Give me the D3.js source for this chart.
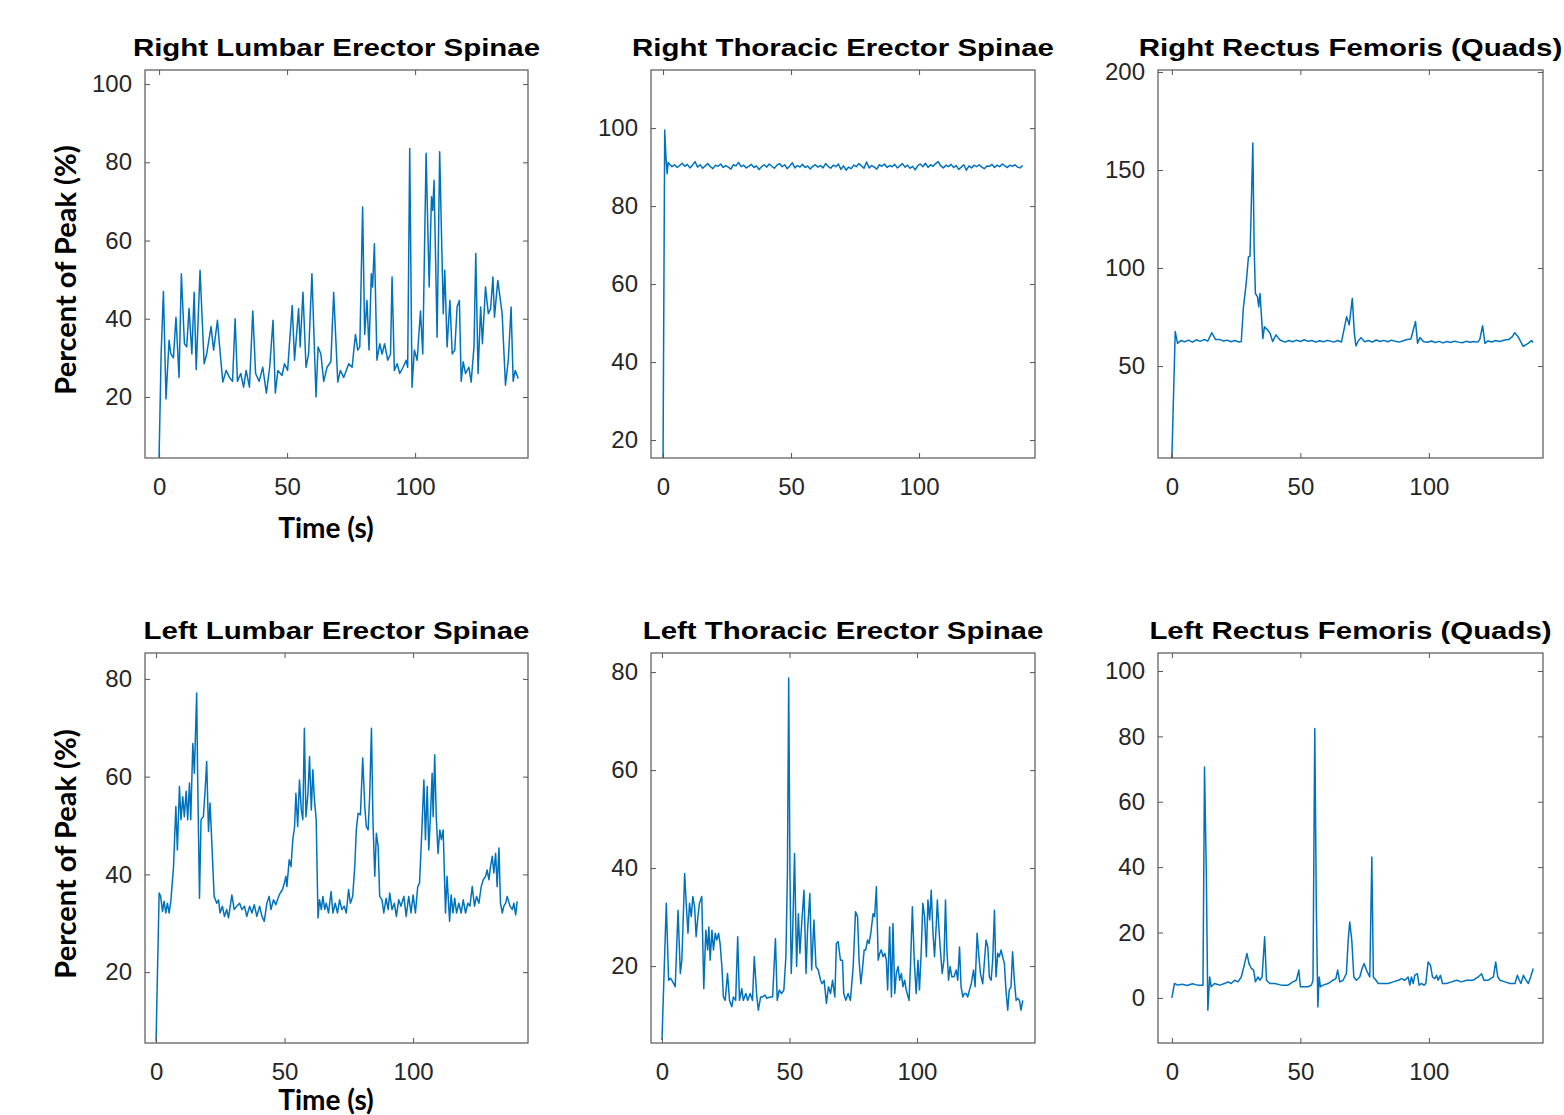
<!DOCTYPE html>
<html>
<head>
<meta charset="UTF-8"/>
<style>
  body { margin: 0; background: #fff; }
  svg { display: block; }
</style>
</head>
<body>
<script src="https://d3js.org/d3.v7.min.js"></script>
<script>
// ---- data: [time (s), percent of peak] ----
var rightLumbar = [
  [0,4.6],[0.8,31],[1.7,47],[2.7,19.5],[3.9,34.5],[4.6,31],[5.6,30],[6.6,40.4],[7.8,25],[8.7,51.5],
  [9.9,33.6],[10.8,32.8],[11.7,42.6],[12.8,31],[13.7,46.8],[14.5,27],[16.0,52.4],[17.6,28.5],[18.6,31],[20.3,38],
  [21.3,32],[22.8,39.6],[23.9,31],[24.9,23.8],[26.2,26.8],[27.5,25],[28.7,24],[29.7,40],[30.6,24],[31.9,26],
  [33.0,22.5],[34.0,26.8],[35.3,22.5],[36.6,42],[37.7,26],[39.1,24],[40.5,27.6],[41.9,21],[43.2,27.6],[44.5,39.6],
  [45.4,21],[46.4,26.8],[48.0,25.5],[49.0,28.5],[50.2,26.8],[52.0,43.4],[52.9,29.4],[54.5,42.6],[55.1,32.8],[56.2,46.8],
  [57.4,27.6],[58.4,31],[59.7,51.5],[61.3,20],[62.1,32.8],[63.2,31],[64.3,24],[65.6,27.6],[67.1,29],[68.2,46.8],
  [69.8,23.8],[70.8,26.8],[72.1,25],[74.1,28.5],[75.4,27.6],[76.7,36],[77.6,32],[78.4,32.8],[79.5,68.6],[80.3,36],
  [81.2,44.7],[82.0,32],[82.9,51.5],[83.4,48.1],[84.1,59.2],[85.1,29.4],[86.2,33.6],[87.1,31],[88.1,33.6],[89.3,29.4],
  [90.4,31],[91.0,50.7],[91.9,26.8],[93.0,28.5],[94.0,26],[95.3,27.6],[96.5,29.4],[97.1,27.6],[97.9,83.5],[98.8,22.5],
  [99.7,32],[100.8,29.4],[102.1,42],[103.0,31],[104.3,82.3],[105.5,48.1],[106.4,71.2],[106.9,67.7],[107.4,75.4],[108.6,35.3],
  [109.6,82.7],[111.0,41.3],[111.6,52.4],[112.5,32.8],[113.6,44.7],[114.5,31],[115.5,32],[116.4,43],[117.3,44.7],[118.0,24],
  [118.8,29],[119.7,26],[121.0,27.6],[121.9,23.8],[123.0,32.8],[123.7,56.7],[124.6,26],[125.6,43],[126.3,33.6],[127.5,48.1],
  [128.6,41.3],[129.5,42.6],[130.4,50.7],[131.0,40.4],[132.3,49.8],[134.0,41.3],[135.3,23],[136.4,29.4],[137.5,43],[138.3,24],
  [139.1,26.8],[140.3,24.7]
];

var rightThoracicOnset = [[0,15],[0.65,99.5],[1.1,93],[1.6,88.3],[2.0,91.2]];
var rightThoracicStart = 2.5;   // s, first sample of the steady part
var rightThoracicStep = 1;      // s between samples
var rightThoracicSteady = [
  90.8,90.1,90.6,89.9,90.4,91.0,90.2,90.7,89.8,90.5,
  91.4,90.0,90.6,89.7,90.3,90.9,90.1,89.6,90.5,90.2,
  90.8,89.9,90.4,90.0,89.5,90.6,90.3,91.2,90.1,90.5,
  89.8,90.2,90.7,89.9,90.3,89.4,90.1,90.6,90.0,90.8,
  90.2,89.7,90.5,90.9,90.1,90.6,89.6,90.3,91.1,89.8,
  90.4,90.0,90.7,89.9,90.3,89.5,90.2,90.6,90.0,90.4,
  89.8,90.9,90.2,89.7,90.5,90.1,90.8,89.4,90.3,89.2,
  90.0,89.6,90.5,90.1,90.9,90.3,89.7,91.3,89.8,90.4,
  90.0,89.5,90.6,90.2,90.8,89.9,90.4,90.1,90.7,89.8,
  90.3,90.9,90.0,90.5,89.7,90.2,89.3,90.4,90.8,90.1,
  91.0,89.9,90.6,90.2,90.9,91.4,90.3,89.8,90.5,90.1,
  90.7,89.9,90.4,89.4,90.0,90.6,89.2,90.3,89.8,90.5,
  90.1,90.6,90.0,89.6,90.3,90.2,90.7,89.9,90.5,90.1,
  90.8,90.3,89.9,90.5,90.2,90.6,90.0,89.8,90.4
];

var rightQuads = [
  [0,3],[1.3,67.6],[2.2,61.6],[3.5,63],[5,62.4],[6.5,63.2],[8,62.2],[9.5,63.4],[11,62.6],[12.5,63.5],
  [14,62.8],[15.5,67],[17,63.5],[18.5,63.6],[20,62.8],[21.5,63.2],[23,62.4],[24.5,63],[26,62.3],[27,62.5],
  [27.8,79.5],[28.9,92],[29.8,105.8],[30.4,106],[31.5,163.8],[32.0,110.9],[32.5,87],[33.3,85.4],[33.8,80.3],[34.3,87],
  [35.4,64],[36.0,70],[37.3,68.4],[38.2,66.7],[39.2,62.5],[40.5,65.9],[42.1,63.3],[44,62.2],[45.5,63],[47,62.4],
  [48.5,63.2],[50,62.5],[51.5,63.4],[53,62.6],[54.5,63],[56,62.2],[57.5,62.9],[59,62.4],[60.5,63.1],[62,62.6],
  [63,62.2],[64.5,63.0],[66,62.3],[68.0,75.2],[69.0,71],[70.2,84.5],[71.0,66.7],[71.6,60.3],[72.5,62.8],[73.6,64.5],
  [75,62.4],[76.5,63],[78,62.2],[79.5,63.3],[81,62.5],[82.5,63.1],[84,62.4],[85.5,63.2],[87,62.6],[88.5,62.2],
  [90,62.9],[91.5,63.5],[93,63.8],[94.8,72.7],[95.6,61.6],[96.5,64.5],[98,62.4],[99.5,62.1],[101,62.8],[102.5,62],
  [104,62.6],[105.5,61.8],[107,62.5],[108.5,62],[110,62.7],[111.5,62.2],[113,61.9],[114.5,62.6],[116,62.1],[117.5,62.5],
  [119,62.2],[119.8,63.5],[120.9,70.6],[121.8,61.6],[123,62.8],[124.5,62.3],[126,63],[127.5,62.5],[129.5,63.3],[131,63.5],
  [132.5,65],[133.4,67],[134.7,65],[136.7,60],[138.6,61.6],[139.9,63],[140.5,62]
];

var leftLumbar = [
  [0,5.8],[1.2,36.2],[1.8,35.5],[2.5,32.4],[3.1,34.5],[3.8,32.1],[4.4,34.1],[5.1,32.1],[5.8,34.8],[6.8,41.6],
  [7.7,53.9],[8.3,45.0],[9.1,58.0],[9.7,51.2],[10.4,55.9],[11.0,51.8],[11.7,57.0],[12.3,51.2],[13.0,58.7],[13.5,51.2],
  [14.3,66.8],[14.9,60.7],[15.8,77.1],[16.2,59.3],[16.9,35.1],[17.5,51.2],[18.4,51.8],[19.1,57.3],[19.7,63.1],[20.4,48.8],
  [21.0,54.6],[21.7,46.4],[22.6,35.5],[23.6,34.1],[24.3,34.8],[24.9,32.1],[25.8,33.5],[26.6,31.4],[27.5,32.8],[28.2,31.1],
  [29.5,35.8],[30.4,32.8],[31.4,33.5],[32.5,34.1],[33.4,32.8],[34.4,33.5],[35.3,31.4],[36.4,33.5],[37.3,32.1],[38.2,33.8],
  [39.2,31.4],[40.3,33.5],[41.2,31.4],[42.1,30.4],[43.1,34.1],[44.0,35.5],[44.7,32.8],[45.7,34.8],[46.6,33.8],[47.7,35.5],
  [48.3,36.2],[49.2,36.9],[49.9,38.2],[50.5,39.6],[50.9,37.5],[51.8,43.0],[52.5,41.6],[53.2,47.1],[53.9,49.8],[54.4,56.6],
  [55.1,49.8],[55.8,59.3],[56.5,53.2],[57.1,51.2],[57.7,69.9],[58.3,51.8],[59.1,56.6],[59.7,64.1],[60.4,53.2],[61.0,61.4],
  [61.6,55.3],[62.3,51.2],[63.0,31.1],[63.6,34.8],[64.3,32.8],[64.9,35.5],[65.6,32.8],[66.2,34.1],[67.1,32.1],[68.1,36.5],
  [68.8,32.1],[69.7,34.1],[70.6,32.1],[71.4,34.8],[72.3,32.8],[73.2,33.5],[74.0,32.1],[74.9,36.9],[75.6,34.1],[76.5,35.5],
  [77.3,41.6],[77.9,49.1],[78.6,52.5],[79.5,52.2],[80.4,63.8],[81.2,53.9],[81.8,49.8],[82.5,49.1],[83.1,55.9],[83.8,69.9],
  [84.4,50.5],[85.1,39.6],[85.7,48.4],[86.4,45.7],[87.0,35.5],[87.9,34.8],[88.6,32.1],[89.5,35.1],[90.3,32.8],[90.9,36.2],
  [91.8,32.8],[92.7,34.1],[93.5,31.4],[94.4,34.8],[95.3,33.5],[96.4,35.5],[97.3,31.4],[98.3,35.5],[99.2,32.1],[100.0,35.8],
  [100.9,32.1],[101.8,37.5],[102.5,38.2],[103.2,46.4],[104.2,59.3],[104.8,47.1],[105.5,58.0],[106.1,45.0],[106.8,52.5],[107.4,60.7],
  [107.8,51.8],[108.4,64.5],[109.0,51.8],[109.7,44.3],[110.4,49.1],[111.0,47.1],[111.7,49.1],[112.6,32.1],[113.2,39.6],[114.2,30.4],
  [114.8,35.8],[115.5,32.1],[116.2,35.1],[116.9,32.1],[117.8,34.1],[118.7,32.1],[119.5,34.8],[120.4,32.1],[121.3,34.1],[122.1,33.5],
  [123.0,37.5],[123.9,33.5],[124.7,35.5],[125.6,34.1],[126.5,37.5],[127.3,38.9],[128.2,39.6],[128.8,40.9],[129.5,38.9],[130.1,41.6],
  [130.8,43.7],[131.4,40.3],[132.1,44.3],[132.7,37.5],[133.4,45.4],[134.0,34.1],[134.7,32.1],[135.3,33.5],[136.0,34.1],[136.6,35.5],
  [137.7,33.5],[138.6,32.8],[139.2,34.1],[139.9,31.7],[140.5,34.5]
];

var leftThoracic = [
  [0,4.9],[1.7,32.8],[2.6,17.1],[3.3,17.5],[3.9,17.1],[4.6,16.4],[5.2,15.8],[6.3,31.4],[7.2,18.5],[7.8,21.2],
  [8.9,38.9],[9.5,32.8],[10.2,26.7],[10.8,32.8],[11.5,30.1],[12.1,34.2],[12.8,32.1],[13.4,26.0],[14.1,30.1],[14.7,32.8],
  [15.6,34.2],[16.4,15.4],[17.2,27.3],[17.9,23.3],[18.4,28.0],[18.9,21.2],[19.6,27.3],[20.2,23.3],[20.9,26.7],[21.5,25.3],
  [22.2,26.7],[22.8,24.6],[23.5,19.9],[24.1,13.7],[24.8,13.0],[25.7,18.5],[26.5,13.0],[27.4,11.7],[28.0,13.7],[28.9,13.0],
  [29.7,26.0],[30.4,13.0],[31.3,15.4],[31.9,13.0],[32.9,14.4],[33.6,13.0],[34.6,14.4],[35.5,13.0],[36.2,21.9],[37.2,13.7],
  [37.8,11.0],[38.7,13.7],[39.5,13.7],[40.4,14.1],[41.1,13.4],[42.4,13.7],[43.4,13.7],[44.5,25.6],[45.2,13.0],[46.0,15.1],
  [46.9,14.4],[47.8,15.1],[48.6,21.9],[49.2,38.9],[49.7,78.8],[50.2,38.9],[50.7,18.5],[51.2,25.3],[52.0,43.0],[52.8,19.9],
  [53.5,30.7],[54.1,22.6],[54.8,28.7],[55.7,35.5],[56.5,18.5],[57.1,27.3],[58.0,34.8],[58.7,19.2],[59.6,29.4],[60.4,19.9],
  [61.3,19.2],[62.2,17.1],[62.8,16.4],[63.6,17.1],[64.5,12.4],[65.3,15.8],[66.1,14.4],[66.9,17.1],[67.8,13.7],[68.4,24.6],
  [69.1,25.0],[70.0,21.2],[70.8,21.2],[71.3,14.4],[72.1,13.0],[73.0,14.4],[73.9,13.0],[75.0,19.9],[75.9,31.1],[76.7,30.1],
  [77.3,21.2],[78.0,16.4],[78.6,19.2],[79.3,23.3],[79.9,23.3],[80.6,25.3],[81.2,24.6],[81.9,26.7],[82.8,30.7],[83.4,30.1],
  [84.1,36.2],[84.8,21.2],[85.4,22.6],[86.0,23.3],[86.7,21.9],[87.4,22.6],[88.0,21.2],[88.5,15.1],[89.3,28.0],[90.0,13.7],
  [90.6,28.7],[91.3,14.4],[91.9,18.5],[92.6,19.9],[93.2,17.1],[93.9,18.5],[94.5,15.8],[95.2,17.1],[95.8,15.1],[96.9,13.0],
  [97.5,20.5],[98.2,32.1],[99.0,20.5],[99.7,14.4],[100.4,21.2],[101.0,15.1],[101.7,23.3],[102.3,32.8],[103.0,30.1],[103.7,21.9],
  [104.3,33.5],[105.0,29.4],[105.6,35.5],[106.3,26.7],[106.9,21.9],[107.6,28.7],[108.0,33.5],[108.5,28.7],[109.1,23.9],[109.9,18.5],
  [110.6,21.2],[111.2,33.5],[111.7,23.9],[112.4,17.1],[113.0,19.9],[113.7,17.8],[114.5,17.8],[115.4,19.2],[116.0,17.1],[116.7,23.9],
  [117.3,15.8],[118.0,13.7],[118.6,14.4],[119.3,14.4],[119.9,13.7],[120.6,15.1],[121.3,16.4],[122.2,19.2],[122.8,15.8],[123.6,26.7],
  [124.3,21.9],[124.9,18.5],[125.8,16.4],[126.5,21.2],[127.1,25.3],[127.8,23.9],[128.4,17.8],[129.1,17.1],[129.7,21.2],[130.4,31.4],
  [131.0,17.8],[131.7,22.6],[132.3,21.9],[133.0,23.3],[133.6,21.9],[134.3,20.5],[134.9,15.1],[135.6,11.0],[136.2,15.1],[136.9,15.8],
  [137.5,22.9],[138.2,17.1],[138.9,13.0],[139.5,13.4],[140.2,13.0],[140.8,11.0],[141.5,13.0]
];

var leftQuads = [
  [0,0],[1,4.4],[2.3,3.9],[4,4.2],[6,3.8],[8,4.3],[10,3.9],[12.1,3.9],[12.7,70.6],[13.4,38],
  [14.0,-3.8],[14.7,6.4],[15.3,3.4],[16.6,4.4],[18.6,3.9],[20.5,4.4],[21.8,4.9],[23.1,4.4],[24.4,5.4],[25.7,4.9],
  [27.0,6.4],[28.3,10.5],[29.2,13.6],[30.0,10.5],[30.9,9],[31.8,8.5],[32.5,4.9],[33.5,6.4],[34.2,5.4],[35.1,6.4],
  [36.1,18.7],[36.8,5.4],[38.1,4.4],[40.0,4.4],[42.6,3.9],[45.2,3.9],[47.1,4.9],[48.4,5.4],[49.4,8.5],[50.0,3.4],
  [51.0,3.4],[53.0,3.4],[54.3,3.9],[54.9,5.4],[55.6,82.4],[56.2,27.8],[56.8,-2.8],[57.3,6.4],[57.8,3.4],[58.8,3.9],
  [60.8,4.4],[62.7,5.4],[63.8,5.9],[64.5,8.5],[65.3,4.9],[66.6,5.4],[67.9,7.4],[68.6,17.6],[69.2,23.2],[70.0,17.6],
  [70.8,6.4],[71.8,5.4],[73.1,6.4],[74.0,9],[74.8,10.5],[75.7,8.5],[77.0,6.4],[77.8,43.1],[78.4,6.4],[79.4,5.4],
  [80.3,4.4],[82.2,4.4],[84.2,4.4],[86.1,4.9],[88.1,5.4],[89.4,5.9],[90.6,5.4],[91.9,6.4],[92.6,3.9],[93.2,6.4],
  [93.9,4.4],[94.5,6.9],[95.5,7.4],[96.2,3.9],[97.1,4.4],[98.1,3.9],[98.8,4.4],[99.7,11],[100.6,10],[101.4,6.4],
  [102.3,5.9],[103.0,6.9],[103.6,5.4],[104.5,6.9],[105.3,4.4],[106.9,4.4],[108.8,4.9],[110.8,5.4],[112.7,4.9],[114.7,5.4],
  [116.0,5.4],[117.3,5.4],[119.2,6.4],[120.5,7.4],[121.4,5.4],[123.1,5.4],[125.1,6.4],[126.0,11],[126.8,6.4],[127.7,5.4],
  [129.6,4.9],[131.6,4.4],[133.5,4.4],[134.4,6.9],[135.2,5.4],[135.8,4.4],[136.8,6.9],[137.8,5.4],[138.7,4.4],[139.6,6.4],
  [140.6,9]
];

var titles = [
  "Right Lumbar Erector Spinae", "Right Thoracic Erector Spinae", "Right Rectus Femoris (Quads)",
  "Left Lumbar Erector Spinae", "Left Thoracic Erector Spinae", "Left Rectus Femoris (Quads)"
];
var xTicks = [0, 50, 100];
var yTicks = [
  [20, 40, 60, 80, 100], [20, 40, 60, 80, 100], [50, 100, 150, 200],
  [20, 40, 60, 80], [20, 40, 60, 80], [0, 20, 40, 60, 80, 100]
];
// axis limits as seen on each panel
var xLimits = [[-5.5, 144.1], [-4.7, 145.3], [-5.4, 144.4], [-4.3, 144.7], [-4.3, 146.3], [-5.4, 144.4]];
var yLimits = [[4.4, 103.6], [15.4, 114.9], [3.1, 201], [5.5, 85.3], [4.3, 83.9], [-13.8, 105.5]];
var yLabel = "Percent of Peak (%)";
var xLabel = "Time (s)";

// steady part of right thoracic gets its time stamps from its sampling
var rightThoracic = rightThoracicOnset.concat(rightThoracicSteady.map(function(v, i) {
  return [rightThoracicStart + i * rightThoracicStep, v];
}));
var series = [rightLumbar, rightThoracic, rightQuads, leftLumbar, leftThoracic, leftQuads];

// ---- layout ----
var width = 1564, height = 1115;
var cols = [[145, 528], [651, 1035], [1158, 1543]];
var rows = [[70, 458], [653, 1043]];
var lineColor = "#0072bd";
var axisColor = "#262626";

var svg = d3.select("body").append("svg")
  .attr("width", width)
  .attr("height", height);
svg.append("rect").attr("width", width).attr("height", height).attr("fill", "#fff");

series.forEach(function(data, k) {
  var c = cols[k % 3], r = rows[Math.floor(k / 3)];
  var w = c[1] - c[0], h = r[1] - r[0];
  var x = d3.scaleLinear().domain(xLimits[k]).range([0, w]);
  var y = d3.scaleLinear().domain(yLimits[k]).range([h, 0]);

  var g = svg.append("g").attr("transform", "translate(" + c[0] + "," + r[0] + ")");

  g.append("clipPath").attr("id", "clip" + k)
    .append("rect").attr("width", w).attr("height", h);

  g.append("path")
    .datum(data)
    .attr("clip-path", "url(#clip" + k + ")")
    .attr("fill", "none")
    .attr("stroke", lineColor)
    .attr("stroke-width", 1.5)
    .attr("stroke-linejoin", "round")
    .attr("d", d3.line().x(function(d) { return x(d[0]); }).y(function(d) { return y(d[1]); }));

  // box
  g.append("rect")
    .attr("width", w).attr("height", h)
    .attr("fill", "none")
    .attr("stroke", "#555")
    .attr("stroke-width", 1.2);

  // axes with inward ticks, mirrored on top and right
  var bottom = g.append("g").attr("transform", "translate(0," + h + ")")
    .call(d3.axisBottom(x).tickValues(xTicks).tickSizeInner(-5).tickSizeOuter(0).tickPadding(20));
  var top = g.append("g")
    .call(d3.axisTop(x).tickValues(xTicks).tickSizeInner(-5).tickSizeOuter(0).tickFormat(""));
  var left = g.append("g")
    .call(d3.axisLeft(y).tickValues(yTicks[k]).tickSizeInner(-5).tickSizeOuter(0).tickPadding(13));
  var right = g.append("g").attr("transform", "translate(" + w + ",0)")
    .call(d3.axisRight(y).tickValues(yTicks[k]).tickSizeInner(-5).tickSizeOuter(0).tickFormat(""));

  [bottom, top, left, right].forEach(function(a) {
    a.select(".domain").remove();
    a.selectAll(".tick line").attr("stroke", "#555");
    a.selectAll(".tick text")
      .attr("fill", axisColor)
      .style("font-family", "'Liberation Sans', Arial, sans-serif")
      .style("font-size", "24px");
  });

  // title, drawn a little wide like the original export
  svg.append("text")
    .attr("transform", "translate(" + (c[0] + w / 2) + "," + (r[0] - 14) + ") scale(1.28,1)")
    .attr("text-anchor", "middle")
    .style("font-family", "'Liberation Sans', Arial, sans-serif")
    .style("font-weight", "bold")
    .style("font-size", "23px")
    .attr("fill", "#000")
    .text(titles[k]);
});

// axis labels on the left column
rows.forEach(function(r, i) {
  svg.append("text")
    .attr("transform", "translate(76," + ((r[0] + r[1]) / 2 + 6) + ") rotate(-90)")
    .attr("text-anchor", "middle")
    .style("font-family", "Lato, 'Open Sans', sans-serif")
    .style("font-weight", "bold")
    .style("font-size", "29px")
    .attr("fill", "#000")
    .text(yLabel);
  svg.append("text")
    .attr("x", 326)
    .attr("y", Math.min(r[1] + 80, height - 5))
    .attr("text-anchor", "middle")
    .style("font-family", "Lato, 'Open Sans', sans-serif")
    .style("font-weight", "bold")
    .style("font-size", "28px")
    .attr("fill", "#000")
    .text(xLabel);
});
</script>
</body>
</html>
